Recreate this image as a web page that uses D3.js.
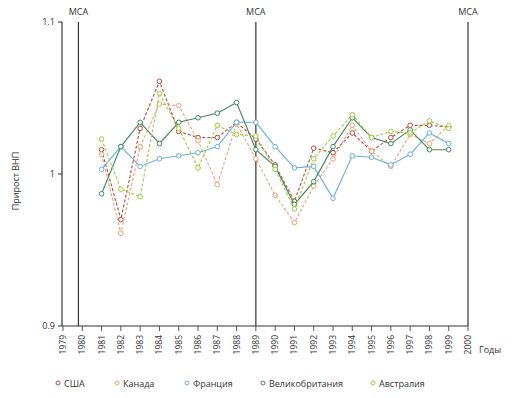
<!DOCTYPE html>
<html>
<head>
<meta charset="utf-8">
<script src="https://cdn.jsdelivr.net/npm/d3@7"></script>
<style>
  body { margin: 0; background: #fff; }
  text { font-family: "Open Sans", sans-serif; fill: #333; }
</style>
</head>
<body>
<svg id="chart" width="517" height="398"></svg>
<script>
// data
var years = [1981,1982,1983,1984,1985,1986,1987,1988,1989,1990,1991,1992,1993,1994,1995,1996,1997,1998,1999];
var usa       = [1.016,0.970,1.030,1.061,1.028,1.024,1.024,1.034,1.023,1.006,0.982,1.017,1.014,1.027,1.015,1.024,1.032,1.032,1.031];
var canada    = [1.013,0.961,1.018,1.046,1.045,1.022,0.993,1.033,1.010,0.986,0.968,0.992,1.010,1.032,1.015,1.005,1.026,1.020,1.032];
var france    = [1.003,1.018,1.005,1.010,1.012,1.014,1.018,1.034,1.034,1.018,1.004,1.005,0.984,1.012,1.011,1.006,1.013,1.027,1.020];
var uk        = [0.987,1.018,1.034,1.020,1.034,1.037,1.040,1.047,1.016,1.005,0.980,0.995,1.018,1.037,1.024,1.020,1.029,1.016,1.016];
var australia = [1.023,0.990,0.985,1.053,1.030,1.004,1.032,1.026,1.025,1.003,0.977,1.010,1.025,1.039,1.024,1.028,1.027,1.035,1.030];

var seriesNames = ["США","Канада","Франция","Великобритания","Австралия"];
var yTicks = [0.9, 1, 1.1];
var tickYears = d3.range(1979, 2001);
var mcaYears = [1979.8, 1989, 2000];

var series = [
  {name: seriesNames[0], values: usa,       color: "#b8473c", dash: "3,2"},
  {name: seriesNames[1], values: canada,    color: "#f0a070", dash: "3,2"},
  {name: seriesNames[2], values: france,    color: "#6aaee2", dash: null},
  {name: seriesNames[3], values: uk,        color: "#3d8a5c", dash: null},
  {name: seriesNames[4], values: australia, color: "#9acd3c", dash: "3,2"}
];

var svg = d3.select("#chart");

var x = d3.scaleLinear().domain([1979, 2000]).range([63, 468]);
var y = d3.scaleLinear().domain([0.9, 1.1]).range([326, 22]);

// y axis
svg.append("line").attr("x1", 62).attr("x2", 62).attr("y1", y(1.1)).attr("y2", y(0.9))
  .attr("stroke", "#333").attr("stroke-width", 1.2);
svg.selectAll(".ytick").data(yTicks).enter().append("line")
  .attr("x1", 58).attr("x2", 62)
  .attr("y1", function(d) { return y(d); }).attr("y2", function(d) { return y(d); })
  .attr("stroke", "#333");
svg.selectAll(".ylab").data(yTicks).enter().append("text")
  .attr("x", 55).attr("y", function(d) { return y(d) + 3; })
  .attr("text-anchor", "end").attr("font-size", 9)
  .text(function(d) { return d; });
svg.append("text")
  .attr("transform", "translate(19,181) rotate(-90)")
  .attr("text-anchor", "middle").attr("font-size", 9)
  .text("Прирост ВНП");

// x axis
svg.append("line").attr("x1", 62).attr("x2", x(2000)).attr("y1", 326).attr("y2", 326)
  .attr("stroke", "#333").attr("stroke-width", 1.2);
svg.selectAll(".xtick").data(tickYears).enter().append("line")
  .attr("x1", function(d) { return x(d); }).attr("x2", function(d) { return x(d); })
  .attr("y1", 326).attr("y2", 331)
  .attr("stroke", "#555");
svg.selectAll(".xlab").data(tickYears).enter().append("text")
  .attr("transform", function(d) { return "translate(" + (x(d) + 3) + ",335) rotate(-90)"; })
  .attr("text-anchor", "end").attr("font-size", 8.5)
  .text(function(d) { return d; });
svg.append("text").attr("x", 479).attr("y", 353).attr("font-size", 9).text("Годы");

// MCA lines
svg.selectAll(".mca").data(mcaYears).enter().append("line")
  .attr("x1", function(d) { return x(d); }).attr("x2", function(d) { return x(d); })
  .attr("y1", 22).attr("y2", 326)
  .attr("stroke", "#333").attr("stroke-width", 1.2);
svg.selectAll(".mcalab").data(mcaYears).enter().append("text")
  .attr("x", function(d) { return x(d); }).attr("y", 15)
  .attr("text-anchor", "middle").attr("font-size", 9)
  .text("МСА");

// series
var line = d3.line()
  .x(function(d, i) { return x(years[i]); })
  .y(function(d) { return y(d); });

series.forEach(function(s) {
  svg.append("path").datum(s.values)
    .attr("d", line)
    .attr("fill", "none")
    .attr("stroke", s.color)
    .attr("stroke-width", 1.1)
    .attr("stroke-dasharray", s.dash);
  svg.selectAll(null).data(s.values).enter().append("circle")
    .attr("cx", function(d, i) { return x(years[i]); })
    .attr("cy", function(d) { return y(d); })
    .attr("r", 2.3)
    .attr("fill", "#fff")
    .attr("stroke", s.color)
    .attr("stroke-width", 1);
});

// legend
var legendX = [58, 117, 187, 263, 373];
var legend = svg.selectAll(".leg").data(series).enter().append("g")
  .attr("transform", function(d, i) { return "translate(" + legendX[i] + ",383)"; });
legend.append("circle").attr("r", 2).attr("fill", "#fff")
  .attr("stroke", function(d) { return d.color; });
legend.append("text").attr("x", 6).attr("y", 3.5).attr("font-size", 9)
  .text(function(d) { return d.name; });
</script>
</body>
</html>
